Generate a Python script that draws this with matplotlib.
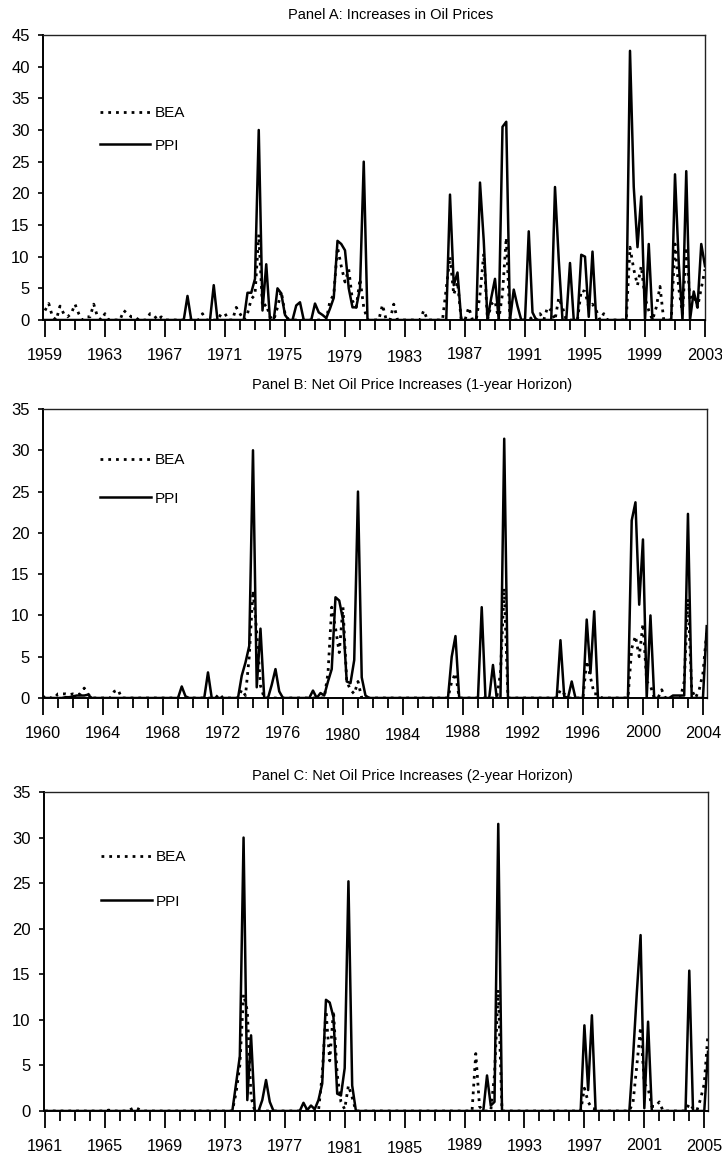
import matplotlib
matplotlib.use('Agg')
import matplotlib.pyplot as plt
import matplotlib.transforms as mtransforms
import numpy as np
from matplotlib.ticker import MultipleLocator

plt.rcParams['font.family'] = ['Liberation Sans', 'DejaVu Sans']

# ---------------- data (quarter index k from start year, value) -------------
# Panel A : quarterly, 1959Q1 .. 2003Q1
a_start, a_n = 1959, 177
a_ppi_k = [38, 45, 54, 55, 56, 57, 58, 59, 62, 63, 64, 67, 68, 72, 73, 74, 75, 76, 77,
           78, 79, 80, 81, 82, 83, 84, 85, 108, 109, 110, 116, 117, 119, 120, 122, 123,
           125, 126, 129, 130, 136, 137, 140, 143, 144, 145, 146, 156, 157, 158, 159,
           161, 168, 169, 171, 173, 174, 175, 176]
a_ppi_v = [3.8, 5.5, 4.3, 4.3, 6.5, 30, 1.5, 8.8, 5, 4.2, 0.8, 2.3, 2.8, 2.6, 1.2, 0.8,
           0.3, 1.8, 3.5, 12.5, 12, 11, 5, 2, 2, 5, 25, 19.8, 5.5, 7.5, 21.7, 12.5, 3.5,
           6.5, 30.5, 31.3, 4.8, 2.2, 14, 1.2, 21, 9.5, 9, 10.3, 10, 0.5, 10.8, 42.5, 21,
           11.5, 19.5, 12, 23, 9, 23.5, 4.5, 2, 12, 8.5]
a_bea_k = [0, 1, 2, 4, 5, 6, 7, 8, 9, 11, 12, 13, 14, 16, 21, 22, 23, 24, 28, 29, 31,
           42, 47, 48, 51, 52, 54, 55, 56, 57, 58, 59, 60, 62, 63, 64, 76, 77, 78, 79,
           80, 81, 82, 83, 84, 85, 90, 93, 101, 107, 108, 109, 110, 113, 116, 117, 119,
           120, 122, 123, 130, 132, 134, 135, 137, 138, 143, 144, 145, 146, 147, 149,
           156, 157, 158, 159, 160, 161, 163, 164, 168, 169, 170, 171, 172, 173, 174,
           175, 176]
a_bea_v = [1.5, 2.6, 0.5, 2.2, 1, 0.5, 1, 2.5, 1, 0.5, 0.5, 2.5, 0.5, 1, 1.5, 1, 0.5,
           0.5, 1, 0.8, 0.5, 1, 1, 1, 2, 1, 1, 3.3, 4, 13.5, 2, 2.5, 0.5, 2, 4.5, 1, 3, 4,
           11.5, 8.5, 6, 8, 3, 2, 6.5, 2, 2.4, 2.5, 1.5, 5, 10, 4, 6, 2, 4, 10.5, 2.5, 3,
           4.2, 13, 0.5, 1, 2, 1.5, 3.5, 2, 4.7, 4.5, 2, 2.5, 1.5, 1, 11.5, 8, 5.5, 8.5,
           3.5, 1.5, 2, 5.3, 12, 5, 1, 11.5, 3, 4, 2, 5, 8]

# Panel B : quarterly, 1960Q1 .. 2004Q2
b_start, b_n = 1960, 178
b_ppi_k = [6, 7, 8, 9, 10, 11, 12, 37, 38, 44, 53, 54, 55, 56, 57, 58, 61, 62, 63, 72,
           74, 75, 76, 77, 78, 79, 80, 81, 82, 83, 84, 85, 86, 109, 110, 117, 120, 123,
           138, 139, 141, 145, 146, 147, 157, 158, 159, 160, 162, 168, 169, 170, 171,
           172, 177]
b_ppi_v = [0.1, 0.1, 0.2, 0.3, 0.3, 0.3, 0.4, 1.4, 0.2, 3.1, 2.7, 4.3, 6.3, 30, 1.3, 8.4,
           1.6, 3.5, 0.8, 0.9, 0.6, 0.3, 2, 3.5, 12.2, 11.8, 9.5, 2, 1.8, 4.6, 25, 2.5,
           0.3, 5, 7.5, 11, 4, 31.4, 7, 0.2, 2, 9.5, 3, 10.5, 21.5, 23.7, 11.3, 19.2, 10,
           0.3, 0.3, 0.3, 0.3, 22.3, 8.7]
b_bea_k = [1, 4, 5, 6, 7, 8, 9, 10, 11, 12, 19, 20, 47, 53, 54, 55, 56, 57, 58, 76, 77,
           78, 79, 80, 81, 82, 83, 84, 109, 110, 122, 123, 138, 139, 145, 146, 147, 148,
           157, 158, 159, 160, 161, 162, 165, 171, 172, 173, 175, 176, 177]
b_bea_v = [0.3, 0.5, 0.5, 0.5, 0.4, 0.5, 0.4, 0.5, 1.2, 0.5, 0.8, 1, 0.5, 1, 0.3, 5, 13,
           8, 1.5, 3, 11, 8.5, 5.5, 11, 2, 1, 0.5, 2, 2, 3, 3, 13.3, 1, 0.5, 4.5, 2.5, 0.5,
           0.5, 6, 7.5, 5, 9, 2, 1.5, 1, 2, 12, 1, 1, 3, 8]

# Panel C : quarterly, 1961Q1 .. 2005Q2
c_start, c_n = 1961, 178
c_ppi_k = [51, 52, 53, 54, 55, 58, 59, 60, 69, 70, 71, 72, 73, 74, 75, 76, 77, 78, 79,
           80, 81, 82, 118, 119, 120, 121, 144, 145, 146, 157, 158, 159, 160, 161, 172,
           177]
c_ppi_v = [3, 6, 30, 1.2, 8.3, 1.2, 3.4, 1, 0.9, 0.1, 0.6, 0.2, 1.2, 3, 12.2, 11.9, 10.3,
           1.9, 1.7, 4.7, 25.2, 2.8, 3.9, 0.6, 1, 31.5, 9.4, 2.3, 10.5, 6, 13, 19.3, 0.3,
           9.8, 15.4, 6.5]
c_bea_k = [17, 23, 24, 25, 51, 52, 53, 54, 55, 74, 75, 76, 77, 78, 79, 80, 81, 82, 115,
           116, 120, 121, 144, 145, 146, 147, 157, 158, 159, 160, 161, 162, 163, 164,
           172, 173, 175, 176, 177]
c_bea_v = [0.1, 0.2, 0.4, 0.2, 2, 5, 12.8, 11, 1.5, 4, 11, 5.5, 11, 4, 1, 0.2, 2.8, 1.5,
           6.3, 0.5, 4, 13.3, 2.5, 1, 0.3, 0.2, 1, 5, 9.2, 3, 2.5, 0.5, 0.5, 1, 0.8, 0.3,
           1.3, 3, 8.5]

titles = ["Panel A: Increases in Oil Prices",
          "Panel B: Net Oil Price Increases (1-year Horizon)",
          "Panel C: Net Oil Price Increases (2-year Horizon)"]
legend_labels = ["BEA", "PPI"]

# ---------------- layout ----------------------------------------------------
W, H = 722, 1155
fig = plt.figure(figsize=(W / 100, H / 100), dpi=100)


def rect(l, r, t, b):
    return [l / W, 1 - b / H, (r - l) / W, (b - t) / H]


panels = [
    dict(start=a_start, n=a_n, ppi=(a_ppi_k, a_ppi_v), bea=(a_bea_k, a_bea_v),
         rect=rect(43, 705, 35, 320), xlim=(1958.867, 2003.0), ymax=45,
         title_xy=(391, 15), leg=(0.086, 0.668), lsp=1.2,
         stagger={1979: -1.5, 1983: -1.5, 1987: 0.8}),
    dict(start=b_start, n=b_n, ppi=(b_ppi_k, b_ppi_v), bea=(b_bea_k, b_bea_v),
         rect=rect(43, 707, 409, 698), xlim=(1960.0, 2004.27), ymax=35,
         title_xy=(412, 385), leg=(0.086, 0.756), lsp=1.6,
         stagger={1980: -1.5, 1984: -1.5, 1988: 0.8, 2000: 1}),
    dict(start=c_start, n=c_n, ppi=(c_ppi_k, c_ppi_v), bea=(c_bea_k, c_bea_v),
         rect=rect(44, 708, 792, 1111), xlim=(1960.93, 2005.25), ymax=35,
         title_xy=(412, 776), leg=(0.086, 0.726), lsp=2.0,
         stagger={1981: -1.5, 1985: -1.5, 1989: 0.8, 2001: 1}),
]

for p, title in zip(panels, titles):
    ax = fig.add_axes(p['rect'])
    x = p['start'] + np.arange(p['n']) / 4.0
    ppi = np.zeros(p['n'])
    ppi[p['ppi'][0]] = p['ppi'][1]
    bea = np.zeros(p['n'])
    bea[p['bea'][0]] = p['bea'][1]
    h_bea, = ax.plot(x, bea, color='black', lw=2.0, ls=(0, (1, 1.8)),
                     dash_capstyle='butt', label=legend_labels[0], zorder=3)
    h_ppi, = ax.plot(x, ppi, color='black', lw=1.8, label=legend_labels[1], zorder=4)

    ax.set_xlim(*p['xlim'])
    ax.set_ylim(0, p['ymax'])
    ax.yaxis.set_major_locator(MultipleLocator(5))
    years_major = np.arange(p['start'], p['start'] + 45, 4)
    ax.set_xticks(years_major)
    ax.set_xticklabels([str(y) for y in years_major])
    ax.set_xticks(np.arange(p['start'], p['start'] + 45, 1), minor=True)

    ax.tick_params(axis='x', which='major', length=12, width=1.3, direction='out',
                   labelsize=11.7, pad=8.3, color='black')
    ax.tick_params(axis='x', which='minor', length=7, width=1.3, direction='out',
                   color='black')
    ax.tick_params(axis='y', which='major', length=3.6, width=1.2, direction='out',
                   labelsize=12, pad=6)
    for s in ['left', 'bottom']:
        ax.spines[s].set_linewidth(1.4)
        ax.spines[s].set_color('black')
    for s in ['top', 'right']:
        ax.spines[s].set_linewidth(1.0)
        ax.spines[s].set_color('#222222')

    # slight vertical staggering of some year labels, as in the original
    for yr, lab in zip(years_major, ax.get_xticklabels()):
        dy = p['stagger'].get(int(yr), 0)
        if dy:
            lab.set_transform(lab.get_transform() +
                              mtransforms.ScaledTranslation(0, dy / 100.0,
                                                            fig.dpi_scale_trans))

    fig.text(p['title_xy'][0] / W, 1 - p['title_xy'][1] / H, title,
             ha='center', va='center', fontsize=10.5)

    ax.legend(handles=[h_bea, h_ppi], loc='center left', bbox_to_anchor=p['leg'],
              frameon=False, handlelength=3.3, handletextpad=0.3,
              labelspacing=p['lsp'], borderpad=0, borderaxespad=0, fontsize=11)

fig.savefig('out.png', dpi=100)
